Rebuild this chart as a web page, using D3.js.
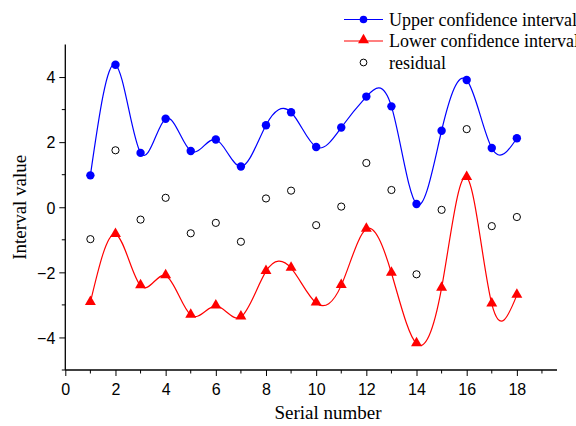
<!DOCTYPE html>
<html>
<head>
<meta charset="utf-8">
<script src="https://cdn.jsdelivr.net/npm/d3@7"></script>
<style>
  body { margin: 0; background: #fff; }
  svg { display: block; }
  .tick-lbl { font-family: "Liberation Sans", Arial, sans-serif; font-size: 16px; fill: #000; }
  .ttl { font-family: "Liberation Serif", "Times New Roman", serif; font-size: 19px; fill: #000; }
  .lgd { font-family: "Liberation Serif", "Times New Roman", serif; font-size: 18px; fill: #000; }
</style>
</head>
<body>
<div id="chart"></div>
<script>
// serial numbers and series values
var serial = [1,2,3,4,5,6,7,8,9,10,11,12,13,14,15,16,17,18];
var upper = [0.98,4.38,1.67,2.72,1.73,2.08,1.25,2.52,2.92,1.85,2.45,3.40,3.10,0.10,2.35,3.91,1.82,2.12];
var lower = [-2.92,-0.83,-2.41,-2.10,-3.31,-3.03,-3.37,-1.97,-1.87,-2.94,-2.40,-0.67,-2.02,-4.19,-2.48,0.92,-2.97,-2.70];
var residual = [-0.98,1.75,-0.38,0.29,-0.80,-0.48,-1.06,0.27,0.51,-0.55,0.02,1.36,0.53,-2.06,-0.08,2.40,-0.58,-0.30];
var xMajor = [0,2,4,6,8,10,12,14,16,18];
var xMinor = [1,3,5,7,9,11,13,15,17,19];
var yMajor = [-4,-2,0,2,4];
var yMinor = [-5,-3,-1,1,3];

var W = 576, H = 426;
var pL = 65.3, pR = 557, pT = 44.5, pB = 370;

var svg = d3.select("#chart").append("svg").attr("width", W).attr("height", H);

var x = d3.scaleLinear().domain([0, 19.6]).range([pL, pR]);
var y = d3.scaleLinear().domain([-5, 5]).range([pB, pT]);

// axes
var xAxis = svg.append("g").attr("transform", "translate(0," + pB + ")");
xAxis.call(d3.axisBottom(x).tickValues(xMajor).tickSize(6).tickPadding(4).tickFormat(d3.format("d")));
xAxis.append("g").selectAll("line").data(xMinor).enter().append("line")
  .attr("x1", function(d){ return x(d); }).attr("x2", function(d){ return x(d); })
  .attr("y1", 0).attr("y2", 3.5).attr("stroke", "#000");

var yAxis = svg.append("g").attr("transform", "translate(" + pL + ",0)");
yAxis.call(d3.axisLeft(y).tickValues(yMajor).tickSize(6).tickPadding(4).tickFormat(d3.format("d")));
yAxis.append("g").selectAll("line").data(yMinor).enter().append("line")
  .attr("y1", function(d){ return y(d); }).attr("y2", function(d){ return y(d); })
  .attr("x1", 0).attr("x2", -3.5).attr("stroke", "#000");

svg.selectAll(".domain").remove();
xAxis.append("line").attr("x1", pL).attr("x2", pR).attr("y1", 0).attr("y2", 0).attr("stroke", "#000").attr("stroke-width", 1.3);
yAxis.append("line").attr("x1", 0).attr("x2", 0).attr("y1", pT).attr("y2", pB).attr("stroke", "#000").attr("stroke-width", 1.3);
svg.selectAll(".tick line").attr("stroke", "#000");
svg.selectAll(".tick text").attr("class", "tick-lbl");
xAxis.attr("font-size", null).attr("font-family", null);
yAxis.attr("font-size", null).attr("font-family", null);
xAxis.selectAll(".tick text").attr("dy", "0.95em");
yAxis.selectAll(".tick text").attr("dy", "0.36em");

// titles
svg.append("text").attr("class", "ttl").attr("x", 328).attr("y", 419)
  .attr("text-anchor", "middle").text("Serial number");
svg.append("text").attr("class", "ttl").attr("transform", "translate(26," + ((pT + pB) / 2) + ") rotate(-90)")
  .attr("text-anchor", "middle").text("Interval value");

// curves
var line = d3.line().curve(d3.curveNatural);
function pts(vals){ return serial.map(function(s, i){ return [x(s), y(vals[i])]; }); }

svg.append("path").attr("d", line(pts(upper))).attr("fill", "none").attr("stroke", "#0000ff").attr("stroke-width", 1.2);
svg.append("path").attr("d", line(pts(lower))).attr("fill", "none").attr("stroke", "#ff0000").attr("stroke-width", 1.2);

var tri = d3.symbol().type(d3.symbolTriangle).size(52);

svg.append("g").selectAll("circle").data(upper).enter().append("circle")
  .attr("cx", function(d, i){ return x(serial[i]); }).attr("cy", function(d){ return y(d); })
  .attr("r", 4.2).attr("fill", "#0000ff");

svg.append("g").selectAll("path").data(lower).enter().append("path")
  .attr("d", tri)
  .attr("transform", function(d, i){ return "translate(" + x(serial[i]) + "," + (y(d) - 0.5) + ")"; })
  .attr("fill", "#ff0000");

svg.append("g").selectAll("circle").data(residual).enter().append("circle")
  .attr("cx", function(d, i){ return x(serial[i]); }).attr("cy", function(d){ return y(d); })
  .attr("r", 3.6).attr("fill", "none").attr("stroke", "#000").attr("stroke-width", 1);

// legend
var lg = svg.append("g");
var rows = [19.5, 41, 62.5];
lg.append("line").attr("x1", 344).attr("x2", 383).attr("y1", rows[0]).attr("y2", rows[0]).attr("stroke", "#0000ff").attr("stroke-width", 1.2);
lg.append("circle").attr("cx", 363.5).attr("cy", rows[0]).attr("r", 3.8).attr("fill", "#0000ff");
lg.append("line").attr("x1", 344).attr("x2", 383).attr("y1", rows[1]).attr("y2", rows[1]).attr("stroke", "#ff0000").attr("stroke-width", 1.2);
lg.append("path").attr("d", tri).attr("transform", "translate(363.5," + (rows[1] - 1) + ")").attr("fill", "#ff0000");
lg.append("circle").attr("cx", 363.5).attr("cy", rows[2]).attr("r", 3.4).attr("fill", "none").attr("stroke", "#000");
var labels = ["Upper confidence interval", "Lower confidence interval", "residual"];
lg.selectAll("text").data(labels).enter().append("text").attr("class", "lgd")
  .attr("x", 389).attr("y", function(d, i){ return rows[i] + 6; }).text(function(d){ return d; });
</script>
</body>
</html>
